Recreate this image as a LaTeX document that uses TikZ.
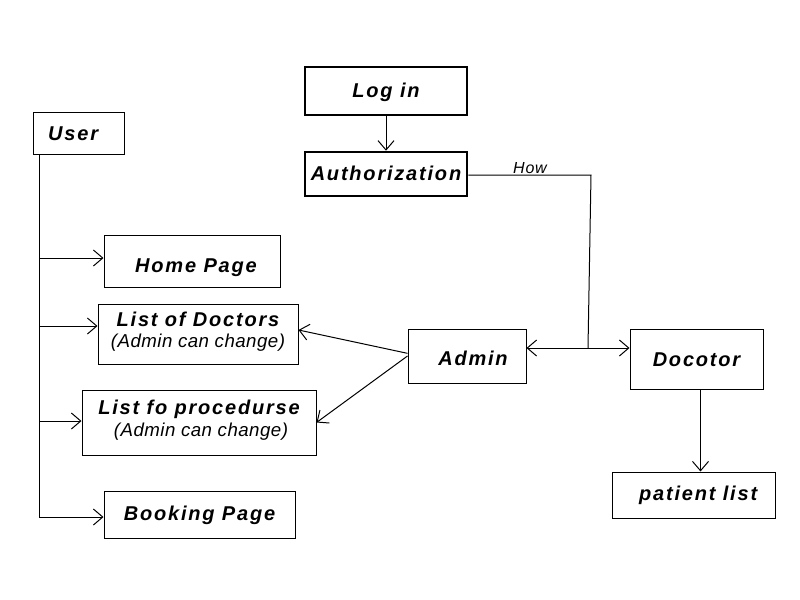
\documentclass[tikz,border=0pt]{standalone}
\usepackage{fontspec}
\setmainfont{Liberation Sans}
\newfontfamily\lblfont[LetterSpace=9]{Liberation Sans}
\newfontfamily\subfont[LetterSpace=2.5]{Liberation Sans}
\newfontfamily\howfont[LetterSpace=5]{Liberation Sans}
\usetikzlibrary{arrows.meta}
\begin{document}
\begin{tikzpicture}[x=0.75pt,y=-0.75pt,
  box/.style={draw,line width=0.75pt,inner sep=0pt,text height=10.7pt,text depth=0pt,
    font=\lblfont\bfseries\itshape\fontsize{15pt}{15pt}\selectfont},
  thickbox/.style={box,line width=1.9pt},
  sz/.style 2 args={minimum width=#1*0.75pt,minimum height=#2*0.75pt},
  conn/.style={line width=0.75pt},
  arr/.style={conn,-{Straight Barb[length=7pt,width=12pt]}},
  dblarr/.style={conn,{Straight Barb[length=7pt,width=12pt]}-{Straight Barb[length=7pt,width=12pt]}}]
\path[use as bounding box,fill=white] (0,0) rectangle (800,600);

\newcommand{\subtxt}[1]{{\subfont\mdseries\itshape\fontsize{14pt}{15pt}\selectfont #1}}
\newcommand{\twolines}[4]{\makebox[0pt]{\raisebox{#1}{#2}}\makebox[0pt]{\raisebox{#3}{\subtxt{#4}}}}

\node[thickbox,sz={162}{48}] (login) at (386,91) {\raisebox{0.5pt}{Log in}};
\node[thickbox,sz={162}{44}] (auth) at (386,174) {\raisebox{0.7pt}{Authorization}};
\node[box,sz={91}{42}] (user) at (78.5,133) {User\hspace*{8pt}};
\node[box,sz={176}{52}] (home) at (192,261) {\hspace*{6pt}\raisebox{-3.1pt}{Home Page}};
\node[box,sz={200}{60}] (docs) at (198,334) {\twolines{11pt}{List of Doctors}{-4.9pt}{(Admin can change)}};
\node[box,sz={234}{65}] (procs) at (199,422.5) {\twolines{11.2pt}{List fo procedurse}{-5pt}{\hspace*{3pt}(Admin can change)}};
\node[box,sz={191}{47}] (booking) at (199.5,514.5) {\raisebox{1pt}{Booking Page}};
\node[box,sz={118}{54}] (admin) at (467,356) {\hspace*{9pt}\raisebox{-1.9pt}{Admin}};
\node[box,sz={133}{60}] (doctor) at (696.5,359) {Docotor};
\node[box,sz={163}{46}] (patient) at (693.5,495) {\hspace*{7pt}\raisebox{1.5pt}{patient list}};

% user trunk
\coordinate (t0) at (39,154);
\coordinate (b1) at (39,258);
\coordinate (b2) at (39,326);
\coordinate (b3) at (39,421);
\coordinate (b4) at (39,517);
\draw[conn] (t0) -- (b4);
\draw[arr] (b1) -- (b1 -| home.west);
\draw[arr] (b2) -- (b2 -| docs.west);
\draw[arr] (b3) -- (b3 -| procs.west);
\draw[arr] (b4) -- (b4 -| booking.west);

% login -> auth
\draw[arr] (login.south) -- (auth.north);

% auth -> admin/doctor
\coordinate (c1) at (591,175);
\coordinate (j) at (588,348);
\draw[conn] (auth.east |- c1) -- (c1) -- (j);
\node[font=\howfont\itshape\fontsize{12pt}{12pt}\selectfont,anchor=base,inner sep=0pt] (how) at (530,173) {How};
\draw[dblarr] (j -| admin.east) -- (j -| doctor.west);

% admin -> lists
\draw[arr] ([yshift=2pt]admin.west) -- ([yshift=3pt]docs.east);
\draw[arr] (admin.west) -- (procs.east);

% doctor -> patient
\draw[arr] ([xshift=3pt]doctor.south) -- ([xshift=3pt]doctor.south |- patient.north);
\end{tikzpicture}
\end{document}
